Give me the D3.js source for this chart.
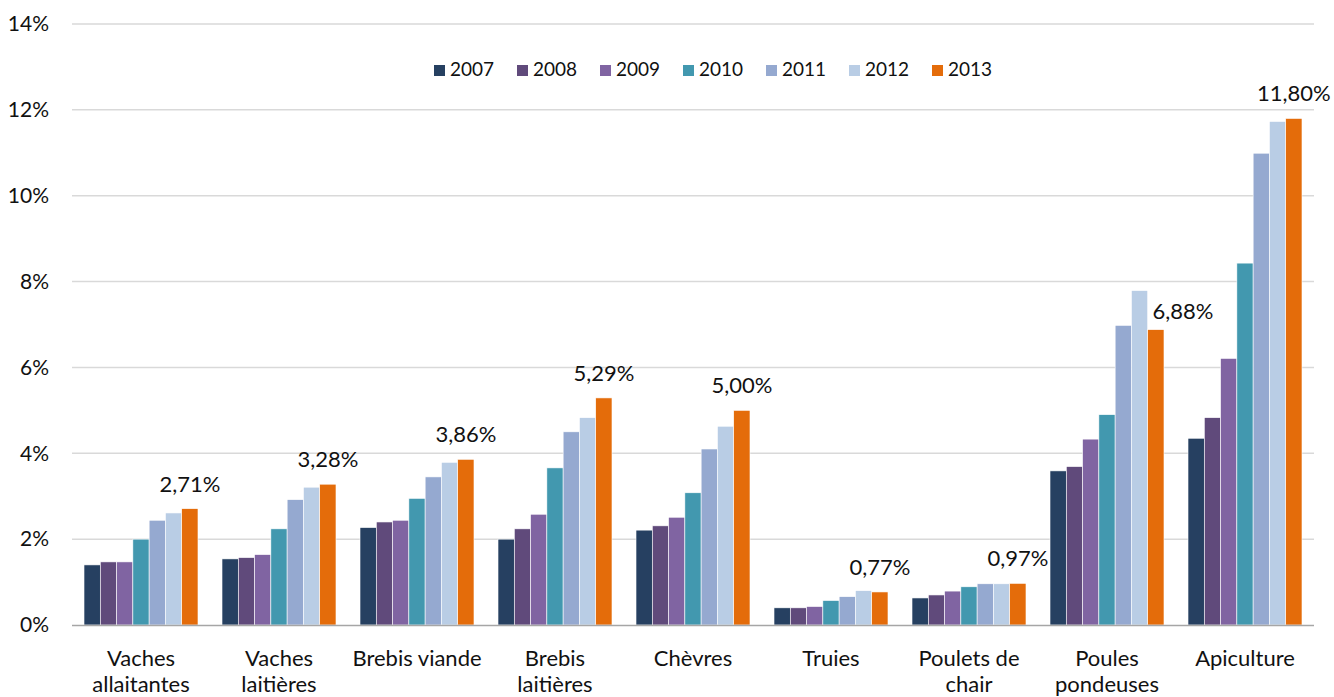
<!DOCTYPE html>
<html lang="fr">
<head>
    <meta charset="UTF-8">
    <title>Part des exploitations en bio</title>
    <script src="https://d3js.org/d3.v7.min.js"></script>
    <style>
        body { margin: 0; background: #fff; }
        text { font-family: Lato, "Open Sans", sans-serif; fill: #111; }
    </style>
</head>
<body>
    <svg id="chart" width="1334" height="697"></svg>

    <script>
        // Données
        var categories = ["Vaches allaitantes", "Vaches laitières", "Brebis viande", "Brebis laitières",
            "Chèvres", "Truies", "Poulets de chair", "Poules pondeuses", "Apiculture"];
        var categoryLines = [["Vaches", "allaitantes"], ["Vaches", "laitières"], ["Brebis viande"],
            ["Brebis", "laitières"], ["Chèvres"], ["Truies"], ["Poulets de", "chair"],
            ["Poules", "pondeuses"], ["Apiculture"]];
        var years = ["2007", "2008", "2009", "2010", "2011", "2012", "2013"];

        var v2007 = [1.40, 1.54, 2.27, 2.00, 2.21, 0.40, 0.63, 3.59, 4.35];
        var v2008 = [1.47, 1.57, 2.40, 2.24, 2.31, 0.40, 0.70, 3.69, 4.83];
        var v2009 = [1.47, 1.64, 2.44, 2.58, 2.51, 0.43, 0.79, 4.33, 6.21];
        var v2010 = [2.00, 2.24, 2.95, 3.66, 3.08, 0.57, 0.89, 4.90, 8.43];
        var v2011 = [2.44, 2.92, 3.45, 4.50, 4.10, 0.66, 0.96, 6.98, 10.99];
        var v2012 = [2.61, 3.21, 3.79, 4.83, 4.63, 0.80, 0.96, 7.79, 11.73];
        var v2013 = [2.71, 3.28, 3.86, 5.29, 5.00, 0.77, 0.97, 6.88, 11.80];

        var yTicks = [0, 2, 4, 6, 8, 10, 12, 14];
        var colors = ["#264061", "#604a7b", "#8064a2", "#4298af", "#95a9d0", "#b9cde5", "#e46c0a"];

        var seriesValues = [v2007, v2008, v2009, v2010, v2011, v2012, v2013];
        var rows = categories.map(function(c, i) {
            return { cat: c, values: years.map(function(y, j) { return { year: y, value: seriesValues[j][i] }; }) };
        });

        var svg = d3.select("#chart");
        var plotLeft = 72, plotRight = 1314, plotTop = 24, plotBottom = 625;

        var x0 = d3.scaleBand().domain(categories).range([plotLeft, plotRight])
            .paddingInner(0.174).paddingOuter(0.087);
        var x1 = d3.scaleBand().domain(years).range([0, x0.bandwidth()]);
        var y = d3.scaleLinear().domain([0, 14]).range([plotBottom, plotTop]);
        var color = d3.scaleOrdinal().domain(years).range(colors);

        // Grille horizontale
        svg.append("g").selectAll("line")
            .data(yTicks.filter(function(t) { return t > 0; }))
            .enter().append("line")
            .attr("x1", plotLeft).attr("x2", plotRight)
            .attr("y1", function(d) { return y(d); })
            .attr("y2", function(d) { return y(d); })
            .attr("stroke", "#d9d9d9").attr("stroke-width", 1.5);

        // Axe Y (libellés seulement)
        var yAxis = svg.append("g")
            .attr("transform", "translate(" + 52 + ",0)")
            .call(d3.axisLeft(y).tickValues(yTicks).tickSize(0).tickFormat(function(d) { return d + "%"; }));
        yAxis.select(".domain").remove();
        yAxis.selectAll("text").attr("font-size", "21px").style("font-family", "Lato, sans-serif").attr("fill", "#111");

        // Barres
        var groups = svg.append("g").selectAll("g")
            .data(rows)
            .enter().append("g")
            .attr("transform", function(d) { return "translate(" + x0(d.cat) + ",0)"; });

        groups.selectAll("rect")
            .data(function(d) { return d.values; })
            .enter().append("rect")
            .attr("x", function(d) { return x1(d.year); })
            .attr("y", function(d) { return y(d.value); })
            .attr("width", x1.bandwidth())
            .attr("height", function(d) { return y(0) - y(d.value); })
            .attr("fill", function(d) { return color(d.year); })
            .attr("stroke", "#ffffff").attr("stroke-width", 0.6);

        // Axe X
        svg.append("line")
            .attr("x1", plotLeft).attr("x2", plotRight)
            .attr("y1", plotBottom + 0.5).attr("y2", plotBottom + 0.5)
            .attr("stroke", "#a6a6a6").attr("stroke-width", 1.5);

        // Libellés des catégories
        svg.append("g").selectAll("text")
            .data(categories)
            .enter().append("text")
            .attr("x", function(d) { return x0(d) + x0.bandwidth() / 2; })
            .attr("y", 666)
            .attr("text-anchor", "middle")
            .attr("font-size", "22px")
            .each(function(d, i) {
                var t = d3.select(this);
                categoryLines[i].forEach(function(line, k) {
                    t.append("tspan")
                        .attr("x", x0(d) + x0.bandwidth() / 2)
                        .attr("dy", k === 0 ? 0 : 26)
                        .text(line);
                });
            });

        // Étiquettes de valeur 2013
        var lastYear = years[years.length - 1];
        svg.append("g").selectAll("text")
            .data(rows)
            .enter().append("text")
            .attr("x", function(d) {
                var cx = x0(d.cat) + x1(lastYear) + x1.bandwidth() / 2;
                // l'étiquette des poules pondeuses est décalée à droite de la barre 2012
                return d.cat === "Poules pondeuses" ? cx + 27 : cx;
            })
            .attr("y", function(d) {
                var v = d.values[d.values.length - 1].value;
                return d.cat === "Poules pondeuses" ? y(v) - 11 : y(v) - 17;
            })
            .attr("text-anchor", "middle")
            .attr("font-size", "22px")
            .text(function(d) { return d.values[d.values.length - 1].value.toFixed(2).replace(".", ",") + "%"; });

        // Légende
        var legend = svg.append("g").selectAll("g")
            .data(years)
            .enter().append("g")
            .attr("transform", function(d, i) { return "translate(" + (434 + i * 83) + ",65)"; });

        legend.append("rect")
            .attr("width", 11).attr("height", 11)
            .attr("fill", function(d) { return color(d); });

        legend.append("text")
            .attr("x", 16).attr("y", 11)
            .attr("font-size", "19px")
            .text(function(d) { return d; });
    </script>
</body>
</html>
